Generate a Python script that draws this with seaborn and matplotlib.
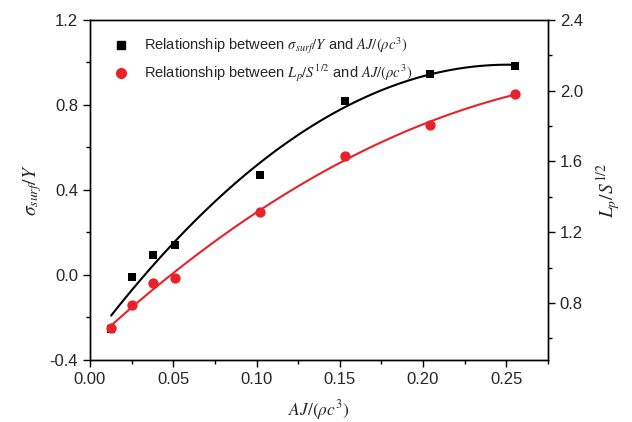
import numpy as np
import pandas as pd
import matplotlib
matplotlib.use("Agg")
import matplotlib.pyplot as plt
import seaborn as sns
from matplotlib.ticker import MultipleLocator

# data
aj = [0.0127, 0.0255, 0.038, 0.051, 0.102, 0.153, 0.204, 0.255]
sigma_surf_y = [-0.254, -0.009, 0.094, 0.141, 0.471, 0.819, 0.946, 0.984]
lp_s = [0.659, 0.789, 0.913, 0.942, 1.315, 1.631, 1.806, 1.982]

df = pd.DataFrame({"aj": aj, "sigma": sigma_surf_y, "lp": lp_s})

sns.set_style("ticks")
plt.rcParams["font.family"] = ["Liberation Sans", "DejaVu Sans"]
plt.rcParams["mathtext.fontset"] = "stix"
plt.rcParams["xtick.direction"] = "out"
plt.rcParams["ytick.direction"] = "out"

fig = plt.figure(figsize=(6.32, 4.22), dpi=100)
ax = fig.add_axes([0.1424, 0.147, 0.7246, 0.806])
ax2 = ax.twinx()

# black: sigma_surf / Y (left axis), quadratic fit
sns.regplot(data=df, x="aj", y="sigma", order=2, ci=None, scatter=False,
            truncate=True, color="black", line_kws={"lw": 1.5}, ax=ax)
sns.scatterplot(data=df, x="aj", y="sigma", marker="s", color="black",
                s=40, edgecolor="black", linewidth=0, ax=ax, zorder=5)

# red: Lp / S^1/2 (right axis), quadratic fit
sns.regplot(data=df, x="aj", y="lp", order=2, ci=None, scatter=False,
            truncate=True, color="#e8222a", line_kws={"lw": 1.5}, ax=ax2)
sns.scatterplot(data=df, x="aj", y="lp", marker="o", color="#e8222a",
                s=55, edgecolor="#e8222a", linewidth=0, ax=ax2, zorder=5)

ax.set_xlim(0, 0.275)
ax.set_ylim(-0.4, 1.2)
ax2.set_ylim(0.478, 2.4)

ax.xaxis.set_major_locator(MultipleLocator(0.05))
ax.xaxis.set_minor_locator(MultipleLocator(0.025))
ax.yaxis.set_major_locator(MultipleLocator(0.4))
ax.yaxis.set_minor_locator(MultipleLocator(0.2))
ax2.yaxis.set_major_locator(MultipleLocator(0.4))
ax2.yaxis.set_minor_locator(MultipleLocator(0.2))
ax.xaxis.set_major_formatter(plt.FormatStrFormatter("%.2f"))
ax.yaxis.set_major_formatter(plt.FormatStrFormatter("%.1f"))
ax2.yaxis.set_major_formatter(plt.FormatStrFormatter("%.1f"))

for a in (ax, ax2):
    a.tick_params(which="major", length=5, width=1, labelsize=12, color="black")
    a.tick_params(which="minor", length=3, width=1, color="black")
    for sp in a.spines.values():
        sp.set_visible(True)
        sp.set_color("black")
        sp.set_linewidth(1)

ax.set_xlabel(r"$AJ/(\rho c^3)$", fontsize=12.5, labelpad=8)
ax.set_ylabel(r"$\sigma_{surf}/Y$", fontsize=14, labelpad=4)
ax2.set_ylabel(r"$L_p/S^{1/2}$", fontsize=14, labelpad=8)

h1 = plt.Line2D([], [], marker="s", color="black", ls="none", markersize=6)
h2 = plt.Line2D([], [], marker="o", color="#e8222a", ls="none", markersize=7)
ax.legend([h1, h2],
          [r"Relationship between $\sigma_{surf}/Y$ and $AJ/(\rho c^3)$",
           r"Relationship between $L_p/S^{1/2}$ and $AJ/(\rho c^3)$"],
          loc="upper left", frameon=False, fontsize=10.5,
          handletextpad=0.6, borderaxespad=0.7, labelspacing=0.45)

fig.savefig("out.png", dpi=100)
